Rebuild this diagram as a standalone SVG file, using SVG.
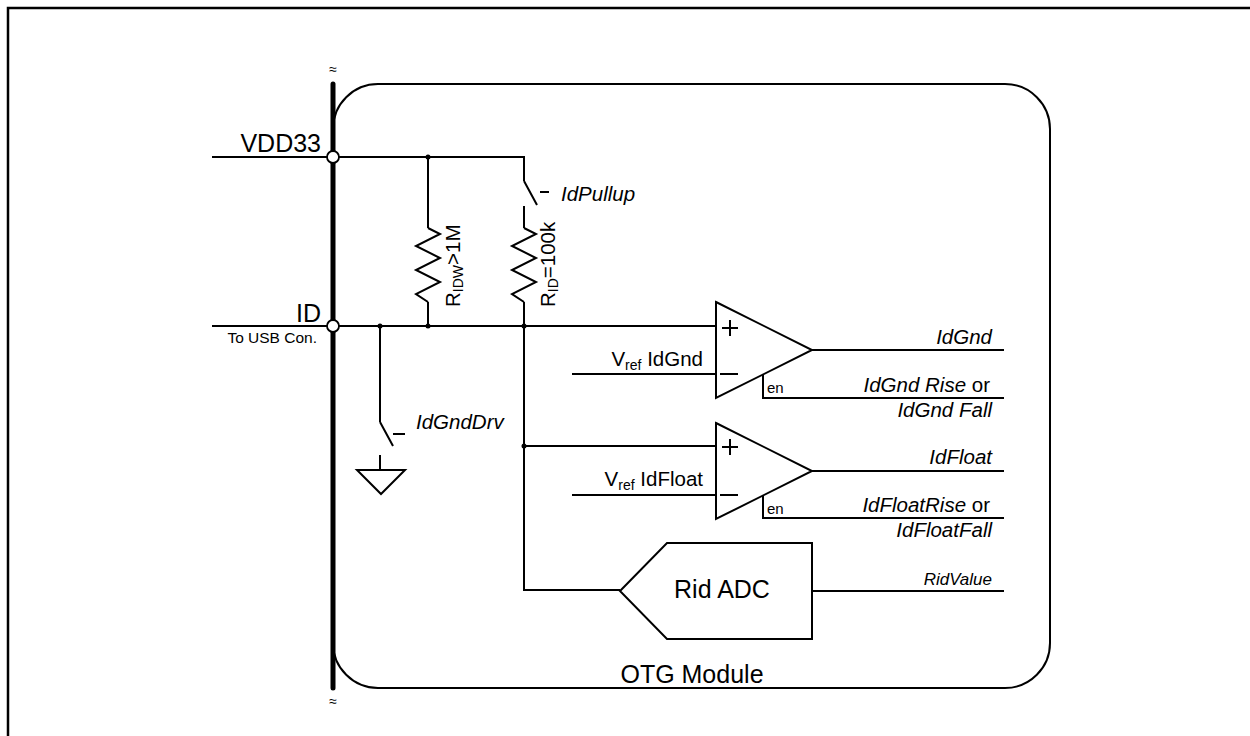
<svg xmlns="http://www.w3.org/2000/svg" width="1250" height="736" viewBox="0 0 1250 736">
<style>
.w{fill:none;stroke:#000;stroke-width:2;stroke-linejoin:miter}
.t{font-family:"Liberation Sans",Arial,sans-serif;fill:#000}
.big{font-size:25px}
.it{font-size:20.5px;font-style:italic}
.lab{font-size:20.5px}
.en{font-size:15px}
.dot{fill:#000}
.pin{fill:#fff;stroke:#000;stroke-width:1.8}
</style>
<rect width="1250" height="736" fill="#fff"/>
<path d="M8,736 V8 H1250" fill="none" stroke="#000" stroke-width="2.5"/>
<g id="module">
<rect x="333" y="84" width="717" height="604" rx="45" ry="45" class="w"/>
<text class="t big" x="692" y="683" text-anchor="middle">OTG Module</text>
</g>
<g id="bus">
<line x1="333" y1="84" x2="333" y2="688" stroke="#000" stroke-width="5" stroke-linecap="round"/>
<text class="t" x="333" y="74" font-size="14" text-anchor="middle">≈</text>
<text class="t" x="333" y="706" font-size="14" text-anchor="middle">≈</text>
</g>
<g id="connectors">
<path class="w" d="M212,157 H524 V181 M524,206 V228 M524,302 V590 H620"/>
<path class="w" d="M428,157 V228 M428,302 V326"/>
<path class="w" d="M212,326 H716"/>
<path class="w" d="M524,446 H716"/>
<path class="w" d="M572,374 H716 M572,495 H716"/>
<path class="w" d="M380,326 V422 M380,455 V470"/>
<path class="w" d="M812,350 H1004 M812,471 H1004 M812,591 H1004"/>
<path class="w" d="M763,375 V398 H1004 M763,496 V518 H1004"/>
</g>
<g id="vdd33">
<circle class="pin" cx="333" cy="157" r="6"/>
<text class="t big" x="321" y="152" text-anchor="end">VDD33</text>
</g>
<g id="id-pin">
<circle class="pin" cx="333" cy="326" r="6"/>
<text class="t big" x="321" y="322" text-anchor="end">ID</text>
<text class="t" x="317" y="343" font-size="15.5" text-anchor="end">To USB Con.</text>
</g>
<g id="junctions">
<circle class="dot" cx="428" cy="157" r="2.5"/>
<circle class="dot" cx="380" cy="326" r="2.5"/>
<circle class="dot" cx="428" cy="326" r="2.5"/>
<circle class="dot" cx="524" cy="326" r="2.5"/>
<circle class="dot" cx="524" cy="446" r="2.5"/>
</g>
<g id="r-idw">
<path class="w" d="M428,228 L440,234 L416,246 L440,258 L416,270 L440,282 L416,294 L428,302"/>
<text class="t lab" transform="translate(460,307) rotate(-90)">R<tspan font-size="14" dy="3">IDW</tspan><tspan dy="-3">&gt;1M</tspan></text>
</g>
<g id="r-id">
<path class="w" d="M524,228 L536,234 L512,246 L536,258 L512,270 L536,282 L512,294 L524,302"/>
<text class="t lab" transform="translate(555,307) rotate(-90)">R<tspan font-size="14" dy="3">ID</tspan><tspan dy="-3">=100k</tspan></text>
</g>
<g id="sw-pullup">
<path class="w" d="M524,181 L537,205 M540,192 H549"/>
<text class="t it" x="561" y="201">IdPullup</text>
</g>
<g id="sw-gnddrv">
<path class="w" d="M380,422 L393,446 M393,434 H405"/>
<text class="t it" x="416" y="429">IdGndDrv</text>
</g>
<g id="ground">
<path class="w" d="M357,470 H405 L381,494 Z"/>
</g>
<g id="comp-gnd">
<path class="w" d="M716,302 L812,350 L716,398 Z"/>
<path class="w" d="M722,328 H738 M730,320 V336 M720,374 H738"/>
<text class="t en" x="767" y="393">en</text>
<text class="t lab" x="703" y="366" text-anchor="end">V<tspan font-size="14" dy="4">ref</tspan><tspan dy="-4"> IdGnd</tspan></text>
<text class="t it" x="992" y="344" text-anchor="end">IdGnd</text>
<text class="t lab" x="990" y="392" text-anchor="end"><tspan font-style="italic">IdGnd Rise</tspan> or</text>
<text class="t it" x="992" y="417" text-anchor="end">IdGnd Fall</text>
</g>
<g id="comp-float">
<path class="w" d="M716,423 L812,471 L716,519 Z"/>
<path class="w" d="M722,447 H738 M730,439 V455 M720,495 H738"/>
<text class="t en" x="767" y="514">en</text>
<text class="t lab" x="703" y="486" text-anchor="end">V<tspan font-size="14" dy="4">ref</tspan><tspan dy="-4"> IdFloat</tspan></text>
<text class="t it" x="992" y="464" text-anchor="end">IdFloat</text>
<text class="t lab" x="990" y="512" text-anchor="end"><tspan font-style="italic">IdFloatRise</tspan> or</text>
<text class="t it" x="992" y="537" text-anchor="end">IdFloatFall</text>
</g>
<g id="rid-adc">
<path class="w" d="M620,591 L667,543 H812 V639 H667 Z"/>
<text class="t big" x="722" y="598" font-size="26" text-anchor="middle">Rid ADC</text>
<text class="t" x="992" y="585" font-size="17" font-style="italic" text-anchor="end">RidValue</text>
</g>
</svg>
